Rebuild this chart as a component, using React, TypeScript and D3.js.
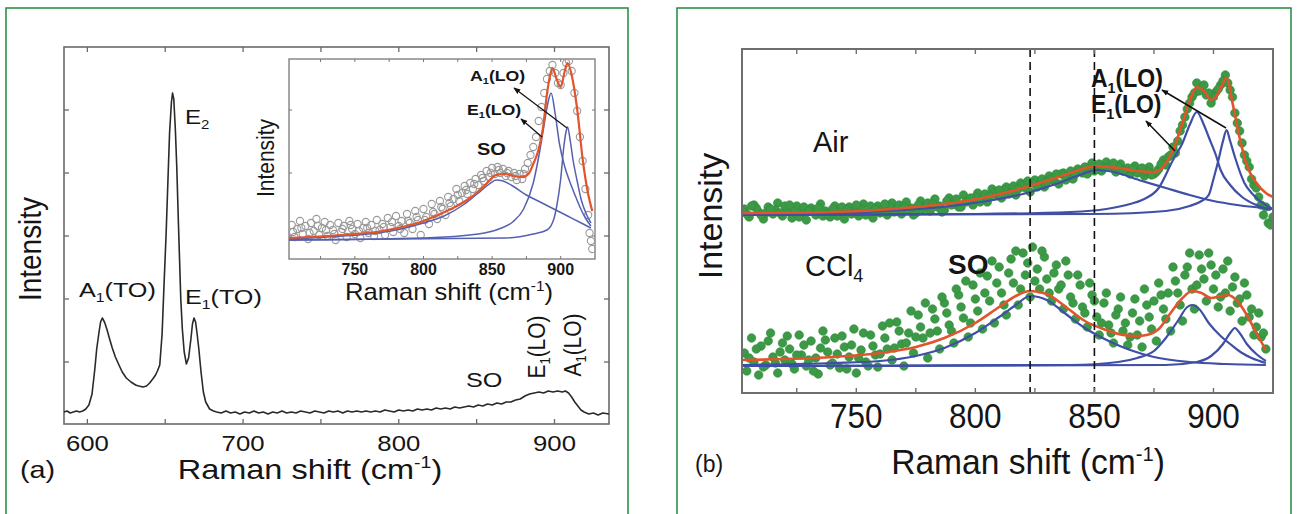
import React from 'react';
import * as d3 from 'd3';

type P = [number, number];

// ---------------- Panel (a): full Raman spectrum ----------------
const spectrumA: P[] = [
  [585,12],[587,13],[589,11],[591,12],[593,13],[595,12],[597,13],[599,15],[601,19],[603,30],[604.8,55],[606,75],[607.5,92],[608.5,102],[609.6,106],[611,102],[612.5,95],[614.3,85],[616,76],[618,67],[620,60],[622.4,52],[625,46],[628,42],[631,39],[633,38],[635.8,37],[638,38],[640,41],[642,45],[643.8,49],[645,53],[646.5,59],[648,90],[649,130],[650.6,191],[652,255],[652.8,291],[654,322],[654.7,331],[655.5,325],[656.5,295],[657.4,258],[658.5,200],[660,125],[661,95],[662.2,72],[663.6,60],[665,66],[666.5,85],[667.5,100],[668.5,106],[669.5,102],[670.5,90],[671.6,75],[673,52],[674.5,32],[676,22],[678.5,15],[681,13],
  [683,12],[686,11],[689,13],[692,11],[695,12],[698,10],[701,12],[704,11],[707,13],[710,11],[713,12],[716,10],[719,12],[722,11],[725,13],[728,11],[731,12],[734,11],[737,13],[740,12],[743,11],[746,13],[749,12],[752,11],[755,13],[758,12],[761,13],[764,11],[767,13],[770,12],[773,13],[776,12],[779,13],[782,12],[785,13],[788,12],[791,14],[794,13],[797,12],[800,14],[803,13],[806,14],[809,13],[812,15],[815,14],[818,15],[821,14],[824,16],[827,15],[830,16],[833,15],[836,17],[839,16],[842,17],[845,18],[848,17],[851,19],[854,18],[857,20],[860,19],[863,21],[866,20],[869,22],[872,22],[875,24],[878,25],[881,28],[884,30],[887,31],[890,32],[893,31],[896,33],[899,32],[902,33],[905,32],[907,33],[909,31],[911,27],[913,22],[915,18],[917,14],[919,12],[922,10],[925,11],[928,9],[931,11],[935,10]
];
const xTicksA = [600, 700, 800, 900];
const xMinorA = [650, 750, 850];
const yTicksA = [62, 125, 188, 251, 314];

// ---------------- Inset of panel (a) ----------------
const insetPoints: P[] = [
  [704,34],[706,22],[708,30],[710,38],[712,25],[714,33],[716,20],[718,36],[720,28],[722,40],[724,24],[726,31],[728,37],[730,23],[732,34],[734,29],[736,19],[738,36],[740,27],[742,33],[744,22],[746,38],[748,30],[750,25],[752,35],[754,21],[756,31],[758,37],[760,26],[762,34],[764,23],[766,39],[768,29],[770,35],[772,24],[774,41],[776,32],[778,27],[780,43],[782,33],[784,38],[786,26],[788,45],[790,36],[792,30],[794,48],[796,39],[798,24],[800,50],[802,42],[804,35],[806,55],[808,45],[810,40],[812,58],[814,50],[816,44],[818,62],[820,53],[822,60],[824,70],[826,58],[828,66],[830,73],[832,65],[834,76],[836,70],[838,80],[840,74],[842,84],[844,78],[846,88],[848,82],[850,91],[852,85],[854,92],[856,86],[858,90],[860,83],[862,88],[864,82],[866,86],[868,79],[870,85],[872,80],[874,90],[876,96],[878,104],[880,112],[882,122],[884,138],[886,152],[888,166],[890,180],[892,188],[894,194],[896,186],[898,176],[900,174],[902,186],[904,196],[906,198],[908,188],[910,166],[912,148],[914,122],[916,98],[918,70],[920,44],[921,26],[922,18],[923,10],
  [705,27],[711,31],[717,26],[723,33],[729,29],[735,25],[741,30],[747,34],[753,28],[759,31],[765,28],[771,32],[777,37],[783,30],[789,38],[795,42],[801,39],[807,47],[813,52],[819,56],[825,64],[831,69],[837,75],[843,81],[849,86],[855,89],[861,86],[867,83],[873,85]
];
const insetFit: P[] = [[702,21],[740,24],[770,28],[800,38],[820,50],[835,62],[845,74],[853,84],[860,85],[866,83],[872,82],[877,86],[880,95],[884,110],[887,130],[890,165],[892,182],[894,191],[897,180],[900,172],[903,188],[905,196],[908,184],[912,150],[916,100],[920,65],[923,48]];
const insetSO: P[] = [[702,20],[730,22],[760,25],[780,29],[800,36],[815,43],[830,55],[840,66],[848,75],[853,79],[858,78],[865,73],[875,64],[885,57],[895,50],[905,43],[915,36],[922,31]];
const insetE1: P[] = [[702,19],[800,21],[840,25],[855,30],[865,37],[873,50],[880,76],[885,110],[888,135],[891,158],[893,166],[896,145],[899,116],[903,92],[907,76],[911,62],[914,52],[918,41],[922,33]];
const insetA1: P[] = [[702,19],[860,21],[880,25],[890,29],[895,40],[897,52],[900,80],[902,109],[904,128],[905,132],[907,118],[909,99],[912,78],[915,59],[919,44],[922,36]];
const xTicksInset = [750, 800, 850, 900];
const xMinorInset = [725, 775, 825, 875];
const yTicksInset = [23, 86, 149];

// ---------------- Panel (b) ----------------
const airPoints: P[] = [
  [703,184],[705,176],[707,188],[709,181],[711,174],[713,186],[715,179],[717,190],[719,177],[721,183],[723,175],[725,187],[727,180],[729,173],[731,185],[733,178],[735,189],[737,182],[739,176],[741,187],[743,180],[745,174],[747,186],[749,183],[751,177],[753,189],[755,181],[757,175],[759,187],[761,183],[763,178],[765,190],[767,184],[769,179],[771,191],[773,185],[775,180],[777,192],[779,186],[781,182],[783,194],[785,187],[787,183],[789,195],[791,189],[793,186],[795,198],[797,192],[799,188],[801,200],[803,194],[805,191],[807,204],[809,198],[811,195],[813,206],[815,201],[817,198],[819,210],[821,205],[823,201],[825,213],[827,209],[829,206],[831,217],[833,212],[835,209],[837,220],[839,216],[841,214],[843,224],[845,220],[847,219],[849,230],[851,224],[853,222],[855,231],[857,226],[859,221],[861,229],[863,223],[865,219],[867,227],[869,221],[871,217],[873,226],[875,219],[877,224],[879,233],[881,236],[883,246],[885,252],[887,268],[889,284],[891,296],[893,310],[895,304],[897,298],[899,290],[901,301],[903,308],[905,318],[907,303],[909,280],[911,262],[913,238],[915,226],[917,208],[919,196],[921,178],[923,170],[925,176],
  [704,179],[708,185],[712,180],[716,183],[720,187],[724,181],[728,186],[732,182],[736,177],[740,184],[744,186],[748,179],[752,184],[756,187],[760,180],[764,186],[768,188],[772,183],[776,188],[780,190],[784,186],[788,192],[792,194],[796,191],[800,196],[804,199],[808,200],[812,203],[816,207],[820,208],[824,210],[828,214],[832,214],[836,219],[840,222],[844,222],[848,226],[852,229],[856,226],[860,226],[864,225],[868,220],[872,222],[876,221],[880,228],[884,240],[888,276],[892,300],[896,308],[900,296],[904,312],[908,296],[912,250],[916,214],[920,188],[924,168],
  [702,182],[706,187],[710,178],[714,184],[718,180],[722,188],[726,176],[730,182],[734,185],[738,179],[742,177],[746,183],[750,188],[754,178],[758,184],[762,189],[766,181],[770,186],[774,178],[778,184],[782,189],[786,181],[790,188],[794,186],[798,195],[802,191],[806,197],[810,203],[814,199],[818,204],[822,212],[826,206],[830,211],[834,219],[838,213],[842,219],[846,226],[850,222],[854,225],[858,230],[862,222],[866,224],[870,225],[874,218],[878,229],[882,238],[886,262],[890,290],[894,302],[898,300],[902,304],[906,310],[910,270],[914,232],[918,205],[922,186]
];
const airFit: P[] = [[702,180],[740,181],[770,185],[790,190],[805,196],[820,205],[835,216],[845,224],[851,227],[860,225],[868,222],[875,221],[880,230],[883,243],[887,270],[890,292],[893,306],[896,302],[899,293],[901,296],[903,305],[905.5,315],[908,290],[911,255],[914,228],[918,210],[922,200],[925,196]];
const airSO: P[] = [[702,179],[740,180],[770,183],[790,187],[805,192],[820,199],[835,210],[845,219],[851,223],[858,221],[870,212],[880,205],[890,198],[900,192],[910,188],[925,184]];
const airE1: P[] = [[702,178],[800,179],[840,181],[855,184],[865,189],[870,193],[877,205],[883,233],[887,250],[890,268],[893,281],[896,268],[898,256],[901,238],[903,223],[907,208],[912,196],[918,188],[924,183]];
const airA1: P[] = [[702,178],[850,179],[880,182],[890,187],[895,192],[898,198],[900,214],[902,232],[904,252],[905.5,263],[907,252],[909,236],[913,210],[916,200],[919,193],[925,184]];

const cclPoints: P[] = [
  [703,40],[704,22],[706,55],[707,31],[709,18],[710,47],[712,28],[714,60],[715,36],[717,20],[719,50],[720,33],[722,44],[724,24],[726,58],[727,38],[729,27],[731,52],[733,35],[734,19],[736,62],[738,41],[740,30],[741,55],[743,25],[745,46],[747,36],[749,64],[750,20],[752,43],[754,31],[756,58],[758,38],[759,26],[761,67],[763,44],[765,33],[767,71],[769,49],[770,27],[772,60],[774,40],[776,78],[778,55],[780,35],[782,84],[784,62],[785,44],[787,90],[789,68],[791,50],[793,98],[795,75],[797,56],[799,108],[801,82],[803,64],[805,117],[806,92],[808,70],[810,126],[811,100],[813,78],[815,134],[816,110],[818,88],[820,140],[821,118],[823,96],[824,146],[826,124],[827,104],[829,136],[830,114],[832,92],[834,128],[835,104],[837,84],[839,118],[840,96],[842,74],[844,108],[845,86],[847,66],[849,98],[851,76],[852,58],[854,90],[856,68],[858,50],[860,84],[862,62],[864,48],[866,80],[868,58],[870,46],[872,88],[874,64],[876,52],[878,98],[880,74],[882,62],[884,112],[886,88],[887,72],[889,126],[891,104],[892,84],[894,138],[896,114],[897,92],[899,128],[900,104],[902,86],[904,124],[905,100],[907,82],[909,116],[910,90],[912,72],[914,98],[915,76],[917,58],[919,80],[920,56],[922,44],
  [705,35],[708,44],[711,26],[713,52],[716,30],[718,41],[721,57],[723,29],[725,38],[728,48],[730,33],[732,22],[735,45],[737,53],[739,28],[742,39],[744,57],[746,24],[748,48],[751,35],[753,60],[755,27],[757,47],[760,39],[762,55],[764,70],[766,45],[768,62],[771,50],[773,82],[775,56],[777,66],[779,90],[781,60],[783,74],[786,96],[788,80],[790,62],[792,104],[794,86],[796,112],[798,70],[800,94],[802,120],[804,100],[807,132],[809,110],[812,88],[814,120],[817,142],[819,104],[822,130],[825,112],[828,142],[831,100],[833,120],[836,108],[838,132],[841,90],[843,118],[846,80],[848,110],[850,92],[853,70],[855,100],[857,60],[859,78],[861,96],[863,70],[865,56],[867,94],[869,72],[871,104],[873,76],[875,92],[877,110],[879,84],[881,100],[883,126],[885,100],[888,118],[890,140],[893,108],[895,124],[898,140],[901,118],[903,96],[906,132],[908,106],[911,94],[913,110],[916,84],[918,66],[921,60]
];
const cclFit: P[] = [[702,33],[740,36],[760,40],[775,46],[787,55],[800,70],[810,86],[817,97],[823,102],[830,99],[838,86],[846,72],[855,63],[862,58],[868,57],[872,58],[877,64],[882,80],[887,95],[891,102],[895,100],[899,95],[903,97],[906,98],[910,92],[914,78],[918,60],[922,43]];
const cclSO: P[] = [[702,28],[740,30],[760,32],[775,37],[787,45],[800,60],[810,76],[817,88],[823,97],[830,93],[838,79],[846,65],[856,52],[865,43],[875,36],[890,31],[905,29],[922,28]];
const cclE1: P[] = [[702,27],[840,28],[860,31],[868,35],[875,42],[880,55],[885,72],[889,86],[891,88],[894,84],[898,70],[903,57],[907,49],[912,40],[916,35],[922,30]];
const cclA1: P[] = [[702,27],[880,28],[893,31],[899,37],[904,49],[907,60],[909,65],[911,60],[914,49],[918,39],[922,32]];

const xTicksB = [750, 800, 850, 900];
const xMinorB = [725, 775, 825, 875];
const dashedB = [823, 850];

// ---------------- drawing ----------------
const FONT = "'Liberation Sans', Arial, Helvetica, sans-serif";
const GREEN_FRAME = '#1f8a3a';
const BLUE = '#3f4fa6';
const RED = '#e2542b';

function Label(props: any) {
  const { x, y, size, sx = 1, rot = 0, anchor = 'start', bold = false, children } = props;
  return (
    <text
      transform={`translate(${x},${y}) scale(${sx},1)${rot ? ` rotate(${rot})` : ''}`}
      fontSize={size}
      fontFamily={FONT}
      fontWeight={bold ? 'bold' : 'normal'}
      textAnchor={anchor}
      fill="#151515"
    >
      {children}
    </text>
  );
}

function subLabel(main: string, sub: string, rest: string, size: number) {
  return [
    <tspan key="m">{main}</tspan>,
    <tspan key="s" fontSize={size * 0.62} dy={size * 0.22}>{sub}</tspan>,
    <tspan key="r" dy={-size * 0.22}>{rest}</tspan>,
  ];
}

function ramanLabel(size: number) {
  return [
    <tspan key="a">Raman shift (cm</tspan>,
    <tspan key="b" fontSize={size * 0.6} dy={-size * 0.38}>-1</tspan>,
    <tspan key="c" dy={size * 0.38}>)</tspan>,
  ];
}

export default function App() {
  const xA = d3.scaleLinear().domain([585, 935]).range([64, 609]);
  const yA = d3.scaleLinear().domain([0, 377]).range([424, 47]);
  const xI = d3.scaleLinear().domain([702, 925]).range([289, 595]);
  const yI = d3.scaleLinear().domain([0, 200]).range([259, 59]);
  const xB = d3.scaleLinear().domain([702, 925]).range([742, 1273]);
  const yB = d3.scaleLinear().domain([0, 344]).range([393, 49]);

  const lineA = d3.line<P>().x(d => xA(d[0])).y(d => yA(d[1]));
  const lineI = d3.line<P>().x(d => xI(d[0])).y(d => yI(d[1])).curve(d3.curveMonotoneX);
  const lineB = d3.line<P>().x(d => xB(d[0])).y(d => yB(d[1])).curve(d3.curveMonotoneX);

  const [a0, a1] = xA.range();
  const [aB, aT] = yA.range();
  const [i0, i1] = xI.range();
  const [iB, iT] = yI.range();
  const [b0, b1] = xB.range();
  const [bB, bT] = yB.range();

  return (
    <svg width={1298} height={514} style={{ position: 'absolute', left: 0, top: 0, background: '#fff' }}>
      <defs>
        <marker id="arr" viewBox="0 0 10 10" refX="9" refY="5" markerWidth="7" markerHeight="7" orient="auto" markerUnits="userSpaceOnUse">
          <path d="M0,1 L10,5 L0,9 z" fill="#111" />
        </marker>
        <clipPath id="clipB">
          <rect x={b0} y={bT} width={b1 - b0} height={bB - bT} />
        </clipPath>
        <clipPath id="clipI">
          <rect x={i0} y={iT} width={i1 - i0} height={iB - iT} />
        </clipPath>
      </defs>
      <rect x={0} y={0} width={1298} height={514} fill="#fff" />

      {/* frames */}
      <rect x={6} y={8} width={622} height={520} fill="none" stroke={GREEN_FRAME} strokeWidth={1.5} />
      <rect x={677} y={8} width={614} height={520} fill="none" stroke={GREEN_FRAME} strokeWidth={1.5} />

      {/* ============ Panel (a) ============ */}
      <g>
        <rect x={a0} y={aT} width={a1 - a0} height={aB - aT} fill="none" stroke="#6a6a6a" strokeWidth={1.6} />
        {[...xTicksA, ...xMinorA].map(t => (
          <g key={'xa' + t} stroke="#6a6a6a" strokeWidth={1.3}>
            <line x1={xA(t)} x2={xA(t)} y1={aB} y2={aB - 5} />
            <line x1={xA(t)} x2={xA(t)} y1={aT} y2={aT + 5} />
          </g>
        ))}
        {yTicksA.map(t => (
          <g key={'ya' + t} stroke="#6a6a6a" strokeWidth={1.3}>
            <line x1={a0} x2={a0 + 5} y1={yA(t)} y2={yA(t)} />
            <line x1={a1} x2={a1 - 5} y1={yA(t)} y2={yA(t)} />
          </g>
        ))}
        <path d={lineA(spectrumA) || ''} fill="none" stroke="#2a2a2a" strokeWidth={1.6} strokeLinejoin="round" />
        {xTicksA.map(t => (
          <Label key={'xla' + t} x={xA(t)} y={451} size={23} sx={1.12} anchor="middle">{t}</Label>
        ))}
        <Label x={310} y={479} size={28} sx={1.16} anchor="middle">{ramanLabel(28)}</Label>
        <Label x={41} y={249} size={28} sx={1.15} rot={-90} anchor="middle">Intensity</Label>
        <Label x={20} y={478} size={24} sx={1.2}>(a)</Label>
        <Label x={79} y={297} size={21} sx={1.2}>{subLabel('A', '1', '(TO)', 21)}</Label>
        <Label x={185} y={124} size={21} sx={1.15}>{subLabel('E', '2', '', 21)}</Label>
        <Label x={185} y={304} size={21} sx={1.2}>{subLabel('E', '1', '(TO)', 21)}</Label>
        <Label x={466} y={387} size={21} sx={1.2}>SO</Label>
        <Label x={545} y={347} size={21} sx={1.15} rot={-90} anchor="middle">{subLabel('E', '1', '(LO)', 21)}</Label>
        <Label x={581} y={345} size={21} sx={1.15} rot={-90} anchor="middle">{subLabel('A', '1', '(LO)', 21)}</Label>
      </g>

      {/* ============ Inset ============ */}
      <g>
        <rect x={i0} y={iT} width={i1 - i0} height={iB - iT} fill="#fff" stroke="#777" strokeWidth={1.3} />
        <g clipPath="url(#clipI)">
          {insetPoints.map((d, k) => (
            <circle key={'ip' + k} cx={xI(d[0])} cy={yI(d[1])} r={3.6} fill="none" stroke="#9a9a9a" strokeWidth={1.1} />
          ))}
          {[insetSO, insetE1, insetA1].map((s, k) => (
            <path key={'ib' + k} d={lineI(s) || ''} fill="none" stroke="#5560b0" strokeWidth={1.5} />
          ))}
          <path d={lineI(insetFit) || ''} fill="none" stroke={RED} strokeWidth={2.2} />
        </g>
        {[...xTicksInset, ...xMinorInset].map(t => (
          <g key={'xi' + t} stroke="#777" strokeWidth={1}>
            <line x1={xI(t)} x2={xI(t)} y1={iB} y2={iB - 3} />
            <line x1={xI(t)} x2={xI(t)} y1={iT} y2={iT + 3} />
          </g>
        ))}
        {yTicksInset.map(t => (
          <g key={'yi' + t} stroke="#777" strokeWidth={1}>
            <line x1={i0} x2={i0 + 3} y1={yI(t)} y2={yI(t)} />
            <line x1={i1} x2={i1 - 3} y1={yI(t)} y2={yI(t)} />
          </g>
        ))}
        <line x1={567} y1={128} x2={514} y2={88} stroke="#111" strokeWidth={1.2} markerEnd="url(#arr)" />
        <line x1={542} y1={137} x2={521} y2={119} stroke="#111" strokeWidth={1.2} markerEnd="url(#arr)" />
        {xTicksInset.map(t => (
          <Label key={'xli' + t} x={xI(t)} y={275} size={16} bold anchor="middle">{t}</Label>
        ))}
        <Label x={449} y={300} size={23} sx={1.11} anchor="middle">{ramanLabel(23)}</Label>
        <Label x={274} y={158} size={21} sx={1.1} rot={-90} anchor="middle">Intensity</Label>
        <Label x={470} y={81} size={15} sx={1.18} bold>{subLabel('A', '1', '(LO)', 15)}</Label>
        <Label x={467} y={115} size={15} sx={1.18} bold>{subLabel('E', '1', '(LO)', 15)}</Label>
        <Label x={477} y={155} size={16} sx={1.25} bold>SO</Label>
      </g>

      {/* ============ Panel (b) ============ */}
      <g>
        <g clipPath="url(#clipB)">
          {airPoints.map((d, k) => (
            <circle key={'ap' + k} cx={xB(d[0])} cy={yB(d[1])} r={4.3} fill="#3c9a46" stroke="#2d8a3a" strokeWidth={0.6} />
          ))}
          {cclPoints.map((d, k) => (
            <circle key={'cp' + k} cx={xB(d[0])} cy={yB(d[1])} r={4.3} fill="#3c9a46" stroke="#2d8a3a" strokeWidth={0.6} />
          ))}
          {[airSO, airE1, airA1, cclSO, cclE1, cclA1].map((s, k) => (
            <path key={'bb' + k} d={lineB(s) || ''} fill="none" stroke={BLUE} strokeWidth={2.2} />
          ))}
          <path d={lineB(airFit) || ''} fill="none" stroke={RED} strokeWidth={2.6} />
          <path d={lineB(cclFit) || ''} fill="none" stroke={RED} strokeWidth={2.6} />
        </g>
        {dashedB.map(t => (
          <line key={'dl' + t} x1={xB(t)} x2={xB(t)} y1={bT} y2={bB} stroke="#111" strokeWidth={1.6} strokeDasharray="8,5" />
        ))}
        <rect x={b0} y={bT} width={b1 - b0} height={bB - bT} fill="none" stroke="#6f6f6f" strokeWidth={2} />
        {[...xTicksB, ...xMinorB].map(t => (
          <g key={'xb' + t} stroke="#6f6f6f" strokeWidth={1.4}>
            <line x1={xB(t)} x2={xB(t)} y1={bB} y2={bB - 5} />
            <line x1={xB(t)} x2={xB(t)} y1={bT} y2={bT + 5} />
          </g>
        ))}
        <line x1={1226} y1={128} x2={1162} y2={90} stroke="#111" strokeWidth={1.5} markerEnd="url(#arr)" />
        <line x1={1175} y1={151} x2={1146} y2={121} stroke="#111" strokeWidth={1.5} markerEnd="url(#arr)" />
        {xTicksB.map(t => (
          <Label key={'xlb' + t} x={xB(t)} y={428} size={35} sx={0.9} anchor="middle">{t}</Label>
        ))}
        <Label x={1028} y={474} size={35} sx={0.96} anchor="middle">{ramanLabel(35)}</Label>
        <Label x={722} y={216} size={34} sx={0.95} rot={-90} anchor="middle">Intensity</Label>
        <Label x={695} y={472} size={23}>(b)</Label>
        <Label x={813} y={152} size={29}>Air</Label>
        <Label x={805} y={276} size={29}>{subLabel('CCl', '4', '', 29)}</Label>
        <Label x={948} y={274} size={28} bold>SO</Label>
        <Label x={1091} y={87} size={25} sx={0.92} bold>{subLabel('A', '1', '(LO)', 25)}</Label>
        <Label x={1091} y={113} size={25} sx={0.92} bold>{subLabel('E', '1', '(LO)', 25)}</Label>
      </g>
    </svg>
  );
}
